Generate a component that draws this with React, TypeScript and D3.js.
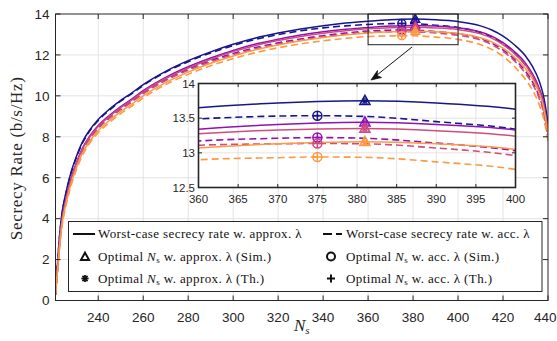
import React from "react";
import * as d3 from "d3";

// ---------- data ----------
const NS = [221, 222, 223, 224, 225, 226, 228, 230, 233, 236, 240, 245, 250, 255, 260, 270, 280, 290, 300, 310, 320, 330, 340, 350, 360, 370, 375, 381, 390, 400, 410, 415, 420, 425, 430, 433, 436, 438, 439, 440];

const approxNavy = [0.3, 2.0, 3.4, 4.35, 4.95, 5.45, 6.3, 6.95, 7.75, 8.3, 8.85, 9.35, 9.78, 10.15, 10.55, 11.2, 11.72, 12.15, 12.52, 12.83, 13.07, 13.27, 13.43, 13.56, 13.65, 13.72, 13.74, 13.75, 13.72, 13.63, 13.42, 13.22, 12.92, 12.5, 11.95, 11.45, 10.75, 10.0, 9.4, 8.6];
const accNavy = [0.3, 1.95, 3.35, 4.3, 4.9, 5.4, 6.25, 6.9, 7.7, 8.25, 8.8, 9.3, 9.74, 10.11, 10.51, 11.16, 11.67, 12.1, 12.46, 12.76, 12.99, 13.18, 13.32, 13.42, 13.49, 13.53, 13.536, 13.525, 13.45, 13.34, 13.09, 12.87, 12.54, 12.1, 11.5, 11.0, 10.25, 9.5, 8.9, 8.3];
const approxPurple = [0.3, 1.75, 3.1, 4.05, 4.65, 5.15, 6.0, 6.65, 7.45, 8.0, 8.55, 9.05, 9.48, 9.85, 10.25, 10.9, 11.42, 11.85, 12.22, 12.53, 12.77, 12.97, 13.13, 13.25, 13.34, 13.41, 13.43, 13.44, 13.41, 13.33, 13.12, 12.92, 12.6, 12.17, 11.6, 11.1, 10.4, 9.7, 9.1, 8.4];
const accPurple = [0.3, 1.7, 3.0, 3.95, 4.55, 5.05, 5.9, 6.55, 7.35, 7.9, 8.45, 8.95, 9.38, 9.75, 10.15, 10.8, 11.3, 11.72, 12.07, 12.36, 12.59, 12.78, 12.94, 13.07, 13.17, 13.21, 13.22, 13.21, 13.14, 13.03, 12.8, 12.58, 12.25, 11.8, 11.2, 10.7, 10.0, 9.3, 8.7, 8.1];
const approxPink = [0.3, 1.7, 3.05, 4.0, 4.6, 5.1, 5.95, 6.6, 7.4, 7.95, 8.5, 9.0, 9.43, 9.8, 10.2, 10.85, 11.36, 11.79, 12.16, 12.46, 12.7, 12.9, 13.06, 13.18, 13.275, 13.33, 13.345, 13.35, 13.32, 13.24, 13.03, 12.82, 12.5, 12.07, 11.5, 11.0, 10.3, 9.6, 9.0, 8.35];
const accPink = [0.3, 1.65, 2.95, 3.9, 4.5, 5.0, 5.85, 6.5, 7.3, 7.85, 8.4, 8.9, 9.33, 9.7, 10.1, 10.75, 11.25, 11.66, 12.01, 12.3, 12.53, 12.72, 12.88, 13.01, 13.11, 13.13, 13.135, 13.13, 13.07, 12.96, 12.73, 12.5, 12.17, 11.72, 11.1, 10.6, 9.9, 9.2, 8.6, 8.0];
const approxOrange = [0.3, 1.6, 2.85, 3.8, 4.4, 4.9, 5.75, 6.4, 7.2, 7.75, 8.3, 8.8, 9.23, 9.6, 10.0, 10.65, 11.16, 11.59, 11.95, 12.25, 12.49, 12.69, 12.85, 12.98, 13.07, 13.13, 13.15, 13.16, 13.13, 13.05, 12.84, 12.64, 12.33, 11.9, 11.33, 10.85, 10.15, 9.45, 8.85, 8.2];
const accOrange = [0.3, 1.5, 2.75, 3.7, 4.3, 4.8, 5.65, 6.3, 7.1, 7.65, 8.2, 8.7, 9.13, 9.5, 9.9, 10.55, 11.05, 11.47, 11.82, 12.11, 12.35, 12.54, 12.69, 12.81, 12.9, 12.93, 12.94, 12.935, 12.87, 12.76, 12.5, 12.27, 11.93, 11.45, 10.8, 10.3, 9.6, 8.9, 8.4, 7.8];

const COLORS = ["#16168c", "#8f12b2", "#cf4c7f", "#fc9a44"];
const APPROX_SERIES = [approxNavy, approxPurple, approxPink, approxOrange];
const ACC_SERIES = [accNavy, accPurple, accPink, accOrange];

const OPT_APPROX_NS = 381;
const OPT_ACC_NS = 375;

const X_TICKS = [240, 260, 280, 300, 320, 340, 360, 380, 400, 420, 440];
const Y_TICKS = [0, 2, 4, 6, 8, 10, 12, 14];
const INSET_X_TICKS = [360, 365, 370, 375, 380, 385, 390, 395, 400];
const INSET_Y_TICKS = [12.5, 13, 13.5, 14];
const INSET_Y_LABELS = ["12.5", "13", "13.5", "14"];

// ---------- layout ----------
const W = 557;
const H = 341;
const M = { left: 55.5, right: 548, top: 14, bottom: 300.5 };
const I = { left: 198.5, right: 515.5, top: 83.5, bottom: 187.5 };

const AXIS = "#262626";
const GRID = "#e3e3e3";
const SANS = "'Liberation Sans', Arial, sans-serif";
const SERIF = "'Liberation Serif', 'Times New Roman', serif";

function Triangle({ cx, cy, s, color, sw }: any) {
  const h = s * 0.9;
  const p = `M${cx},${cy - h * 0.6}L${cx + s / 2},${cy + h * 0.4}L${cx - s / 2},${cy + h * 0.4}Z`;
  return <path d={p} fill="none" stroke={color} strokeWidth={sw} strokeLinejoin="miter" />;
}
function Asterisk({ cx, cy, r, color, sw }: any) {
  const d = r * 0.7071;
  return (
    <g stroke={color} strokeWidth={sw}>
      <line x1={cx - r} y1={cy} x2={cx + r} y2={cy} />
      <line x1={cx} y1={cy - r} x2={cx} y2={cy + r} />
      <line x1={cx - d} y1={cy - d} x2={cx + d} y2={cy + d} />
      <line x1={cx - d} y1={cy + d} x2={cx + d} y2={cy - d} />
    </g>
  );
}
function CirclePlus({ cx, cy, r, color, sw, plus = true }: any) {
  return (
    <g stroke={color} strokeWidth={sw} fill="none">
      <circle cx={cx} cy={cy} r={r} />
      {plus && <line x1={cx - r} y1={cy} x2={cx + r} y2={cy} />}
      {plus && <line x1={cx} y1={cy - r} x2={cx} y2={cy + r} />}
    </g>
  );
}

export default function App() {
  const x = d3.scaleLinear().domain([221, 440]).range([M.left, M.right]);
  const y = d3.scaleLinear().domain([0, 14]).range([M.bottom, M.top]);
  const xi = d3.scaleLinear().domain([360, 400]).range([I.left, I.right]);
  const yi = d3.scaleLinear().domain([12.5, 14]).range([I.bottom, I.top]);

  const mkLine = (sx: any, sy: any) =>
    d3
      .line<number>()
      .x((_, i) => sx(NS[i]))
      .y((d) => sy(d))
      .curve(d3.curveMonotoneX);
  const lineMain = mkLine(x, y);
  const lineInset = mkLine(xi, yi);

  const iA = NS.indexOf(OPT_APPROX_NS);
  const iC = NS.indexOf(OPT_ACC_NS);

  const renderCurves = (lg: any) => (
    <g>
      {COLORS.map((c, k) => (
        <g key={k}>
          <path d={lg(ACC_SERIES[k]) || ""} fill="none" stroke={c} strokeWidth={1.6} strokeDasharray="7,4" />
          <path d={lg(APPROX_SERIES[k]) || ""} fill="none" stroke={c} strokeWidth={1.5} />
        </g>
      ))}
    </g>
  );

  const renderMarkers = (sx: any, sy: any, big: boolean) => (
    <g>
      {COLORS.map((c, k) => {
        const ts = big ? 10 : 8.5;
        const cr = big ? 4.5 : 4;
        const ax = sx(OPT_APPROX_NS);
        const ay = sy(APPROX_SERIES[k][iA]);
        const cx = sx(OPT_ACC_NS);
        const cy = sy(ACC_SERIES[k][iC]);
        return (
          <g key={k}>
            <CirclePlus cx={cx} cy={cy} r={cr} color={c} sw={1.5} />
            <Triangle cx={ax} cy={ay} s={ts} color={c} sw={1.6} />
            <Asterisk cx={ax} cy={ay + 0.5} r={big ? 3.5 : 3} color={c} sw={1.4} />
          </g>
        );
      })}
    </g>
  );

  const mainTick = 5;
  const insTick = 3.5;

  const legendRows = [234, 256.5, 278.5];

  return (
    <svg width={W} height={H} style={{ position: "absolute", left: 0, top: 0, background: "#fff" }}>
      <defs>
        <clipPath id="mainClip">
          <rect x={M.left} y={M.top} width={M.right - M.left} height={M.bottom - M.top} />
        </clipPath>
        <clipPath id="insetClip">
          <rect x={I.left} y={I.top} width={I.right - I.left} height={I.bottom - I.top} />
        </clipPath>
      </defs>
      <rect x={0} y={0} width={W} height={H} fill="#fff" />

      {/* main grid */}
      <g stroke={GRID} strokeWidth={1}>
        {X_TICKS.filter((t) => t < 440).map((t) => (
          <line key={t} x1={x(t)} x2={x(t)} y1={M.top} y2={M.bottom} />
        ))}
        {Y_TICKS.filter((t) => t > 0 && t < 14).map((t) => (
          <line key={t} x1={M.left} x2={M.right} y1={y(t)} y2={y(t)} />
        ))}
      </g>

      {/* main curves */}
      <g clipPath="url(#mainClip)">
        {renderCurves(lineMain)}
        {renderMarkers(x, y, false)}
      </g>

      {/* main axes box & ticks */}
      <g stroke={AXIS} strokeWidth={1} fill="none">
        <rect x={M.left} y={M.top} width={M.right - M.left} height={M.bottom - M.top} />
        {X_TICKS.map((t) => (
          <g key={t}>
            <line x1={x(t)} x2={x(t)} y1={M.bottom} y2={M.bottom - mainTick} />
            <line x1={x(t)} x2={x(t)} y1={M.top} y2={M.top + mainTick} />
          </g>
        ))}
        {Y_TICKS.map((t) => (
          <g key={t}>
            <line x1={M.left} x2={M.left + mainTick} y1={y(t)} y2={y(t)} />
            <line x1={M.right} x2={M.right - mainTick} y1={y(t)} y2={y(t)} />
          </g>
        ))}
      </g>
      <g fill={AXIS} fontFamily={SANS} fontSize={13.5}>
        {X_TICKS.map((t) => (
          <text
            key={t}
            x={t === 440 ? W - 0.5 : x(t)}
            y={M.bottom + 21}
            textAnchor={t === 440 ? "end" : "middle"}
          >
            {t}
          </text>
        ))}
        {Y_TICKS.map((t) => (
          <text key={t} x={M.left - 6} y={y(t) + 4.8} textAnchor="end">
            {t}
          </text>
        ))}
      </g>

      {/* axis labels */}
      <text
        transform={`translate(22,${(M.top + M.bottom) / 2 + 1}) rotate(-90)`}
        textAnchor="middle"
        fontFamily={SERIF}
        fontSize={17}
        letterSpacing={0.7}
        fill={AXIS}
      >
        Secrecy Rate (b/s/Hz)
      </text>
      <text x={294} y={331} fontFamily={SERIF} fontSize={17} fontStyle="italic" fill={AXIS}>
        N
        <tspan fontSize={11} dy={3}>
          s
        </tspan>
      </text>

      {/* zoom rectangle + arrow */}
      <rect x={x(360)} y={y(14)} width={x(400) - x(360)} height={y(12.5) - y(14)} fill="none" stroke="#222" strokeWidth={1} />
      <line x1={412} y1={47} x2={377} y2={75} stroke="#111" strokeWidth={1} />
      <path d="M371,80 L377.5,70.5 L377,75.5 L381.5,77.5 Z" fill="#111" stroke="#111" strokeWidth={0.8} strokeLinejoin="round" />

      {/* inset */}
      <rect x={I.left} y={I.top} width={I.right - I.left} height={I.bottom - I.top} fill="#fff" />
      <g stroke={GRID} strokeWidth={1}>
        {INSET_X_TICKS.filter((t) => t > 360 && t < 400).map((t) => (
          <line key={t} x1={xi(t)} x2={xi(t)} y1={I.top} y2={I.bottom} />
        ))}
        {INSET_Y_TICKS.filter((t) => t > 12.5 && t < 14).map((t) => (
          <line key={t} x1={I.left} x2={I.right} y1={yi(t)} y2={yi(t)} />
        ))}
      </g>
      <g clipPath="url(#insetClip)">
        {renderCurves(lineInset)}
        {renderMarkers(xi, yi, true)}
      </g>
      <g stroke={AXIS} strokeWidth={1.6} fill="none">
        <rect x={I.left} y={I.top} width={I.right - I.left} height={I.bottom - I.top} />
      </g>
      <g stroke={AXIS} strokeWidth={1}>
        {INSET_X_TICKS.map((t) => (
          <g key={t}>
            <line x1={xi(t)} x2={xi(t)} y1={I.bottom} y2={I.bottom - insTick} />
            <line x1={xi(t)} x2={xi(t)} y1={I.top} y2={I.top + insTick} />
          </g>
        ))}
        {INSET_Y_TICKS.map((t) => (
          <g key={t}>
            <line x1={I.left} x2={I.left + insTick} y1={yi(t)} y2={yi(t)} />
            <line x1={I.right} x2={I.right - insTick} y1={yi(t)} y2={yi(t)} />
          </g>
        ))}
      </g>
      <g fill={AXIS} fontFamily={SANS} fontSize={11.5}>
        {INSET_X_TICKS.map((t) => (
          <text key={t} x={xi(t)} y={I.bottom + 15} textAnchor="middle">
            {t}
          </text>
        ))}
        {INSET_Y_TICKS.map((t, k) => (
          <text key={t} x={I.left - 3.5} y={yi(t) + 4} textAnchor="end">
            {INSET_Y_LABELS[k]}
          </text>
        ))}
      </g>

      {/* legend */}
      <rect x={68.5} y={221.5} width={473.5} height={70} fill="#fff" stroke={AXIS} strokeWidth={1} />
      <g fontFamily={SERIF} fontSize={13} letterSpacing={0.4} fill="#111">
        <line x1={73} x2={95} y1={legendRows[0]} y2={legendRows[0]} stroke="#111" strokeWidth={2} />
        <text x={98} y={legendRows[0] + 4}>
          Worst-case secrecy rate w. approx. λ
        </text>
        <Triangle cx={85} cy={legendRows[1] + 0.5} s={8} color="#111" sw={2} />
        <text x={98} y={legendRows[1] + 4}>
          Optimal <tspan fontStyle="italic">N</tspan>
          <tspan fontSize={9} dy={2.5}>s</tspan>
          <tspan dy={-2.5}> w. approx. λ (Sim.)</tspan>
        </text>
        <Asterisk cx={85} cy={legendRows[2]} r={3.6} color="#111" sw={1.8} />
        <text x={98} y={legendRows[2] + 4}>
          Optimal <tspan fontStyle="italic">N</tspan>
          <tspan fontSize={9} dy={2.5}>s</tspan>
          <tspan dy={-2.5}> w. approx. λ (Th.)</tspan>
        </text>

        <line x1={323} x2={342} y1={legendRows[0]} y2={legendRows[0]} stroke="#111" strokeWidth={2} strokeDasharray="9,4" />
        <text x={346} y={legendRows[0] + 4}>
          Worst-case secrecy rate w. acc. λ
        </text>
        <CirclePlus cx={331} cy={legendRows[1]} r={4} color="#111" sw={2} plus={false} />
        <text x={346} y={legendRows[1] + 4}>
          Optimal <tspan fontStyle="italic">N</tspan>
          <tspan fontSize={9} dy={2.5}>s</tspan>
          <tspan dy={-2.5}> w. acc. λ (Sim.)</tspan>
        </text>
        <g stroke="#111" strokeWidth={2}>
          <line x1={327} x2={335} y1={legendRows[2]} y2={legendRows[2]} />
          <line x1={331} x2={331} y1={legendRows[2] - 4} y2={legendRows[2] + 4} />
        </g>
        <text x={346} y={legendRows[2] + 4}>
          Optimal <tspan fontStyle="italic">N</tspan>
          <tspan fontSize={9} dy={2.5}>s</tspan>
          <tspan dy={-2.5}> w. acc. λ (Th.)</tspan>
        </text>
      </g>
    </svg>
  );
}
